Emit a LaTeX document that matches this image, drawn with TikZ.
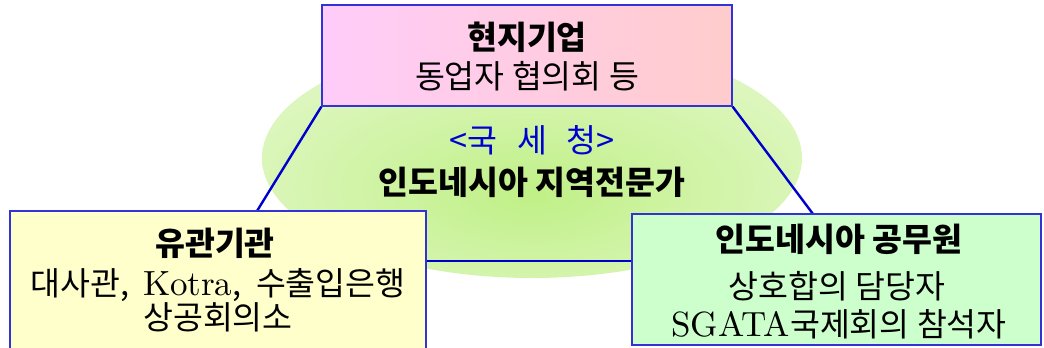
\documentclass[tikz,border=0pt]{standalone}
\usepackage{fontspec}
\newfontfamily\kr{Noto Sans CJK KR}
\newfontfamily\lat{lmroman10-regular}[Extension=.otf]
\usetikzlibrary{calc}
\definecolor{edgeblue}{RGB}{0,0,204}
\definecolor{boxline}{RGB}{50,50,215}
\definecolor{pinkL}{RGB}{255,204,250}
\definecolor{pinkR}{RGB}{255,204,204}
\definecolor{yellowbox}{RGB}{255,255,204}
\definecolor{greenbox}{RGB}{204,255,204}
\definecolor{ellin}{RGB}{192,240,135}
\definecolor{ellout}{RGB}{238,250,222}
\definecolor{titleblue}{RGB}{0,0,210}
\pgfdeclareradialshading{ellshade}{\pgfpoint{0bp}{-8bp}}{color(0bp)=(ellin); color(44bp)=(ellout); color(80bp)=(ellout)}
\pgfdeclarelayer{bg}
\pgfsetlayers{bg,main}
\newcommand\latw[1]{{\lat\fontsize{35}{27}\selectfont #1}}
\tikzset{
  box/.style={draw=boxline, line width=1.3pt, rectangle, inner sep=0pt},
  conn/.style={draw=edgeblue, line width=2.4pt},
  txt/.style={font=\kr\fontsize{32.5}{27}\selectfont, inner sep=0pt, align=center},
  ttl/.style={font=\kr\bfseries\fontsize{32.5}{27}\selectfont, inner sep=0pt}
}
\begin{document}
\begin{tikzpicture}[x=1pt,y=-1pt]
\useasboundingbox (0,0) rectangle (1044,348);
% boxes
\node[box, left color=pinkL, right color=pinkR, minimum width=410pt, minimum height=101pt] (top) at (527,55.5) {};
\node[box, fill=yellowbox, minimum width=416pt, minimum height=149pt] (left) at (218,285.5) {};
\node[box, fill=greenbox, minimum width=409pt, minimum height=131pt] (right) at (836.5,279.5) {};
\coordinate (la) at (257,211);
\coordinate (ra) at (813,214);
\coordinate (mid) at (532,261);
\begin{pgfonlayer}{bg}
  \path[shading=ellshade] (532,158) ellipse [x radius=270, y radius=120];
  \draw[conn] (top.south west) -- (la);
  \draw[conn] (top.south east) -- (ra);
  \draw[conn] (left.east |- mid) -- (right.west |- mid);
\end{pgfonlayer}
% texts
\node[ttl] (t1) at (527,37) {현지기업};
\node[txt] (t2) at (527,76) {동업자 협의회 등};
\node[txt, text=titleblue] (c1) at (532,140) {<국\hspace{0.6em}세\hspace{0.6em}청>};
\node[ttl] (c2) at (532,182) {인도네시아 지역전문가};
\node[ttl] (l1) at (215,243) {유관기관};
\node[txt] (l2) at (218,300) {대사관,\hspace{0.45em}\latw{Kotra},\hspace{0.45em}수출입은행\\상공회의소};
\node[ttl] (r1) at (839,239) {인도네시아 공무원};
\node[txt] (r2) at (837,286) {상호합의 담당자};
\node[txt] (r3) at (839,324) {\latw{SGATA}국제회의 참석자};
\end{tikzpicture}
\end{document}
